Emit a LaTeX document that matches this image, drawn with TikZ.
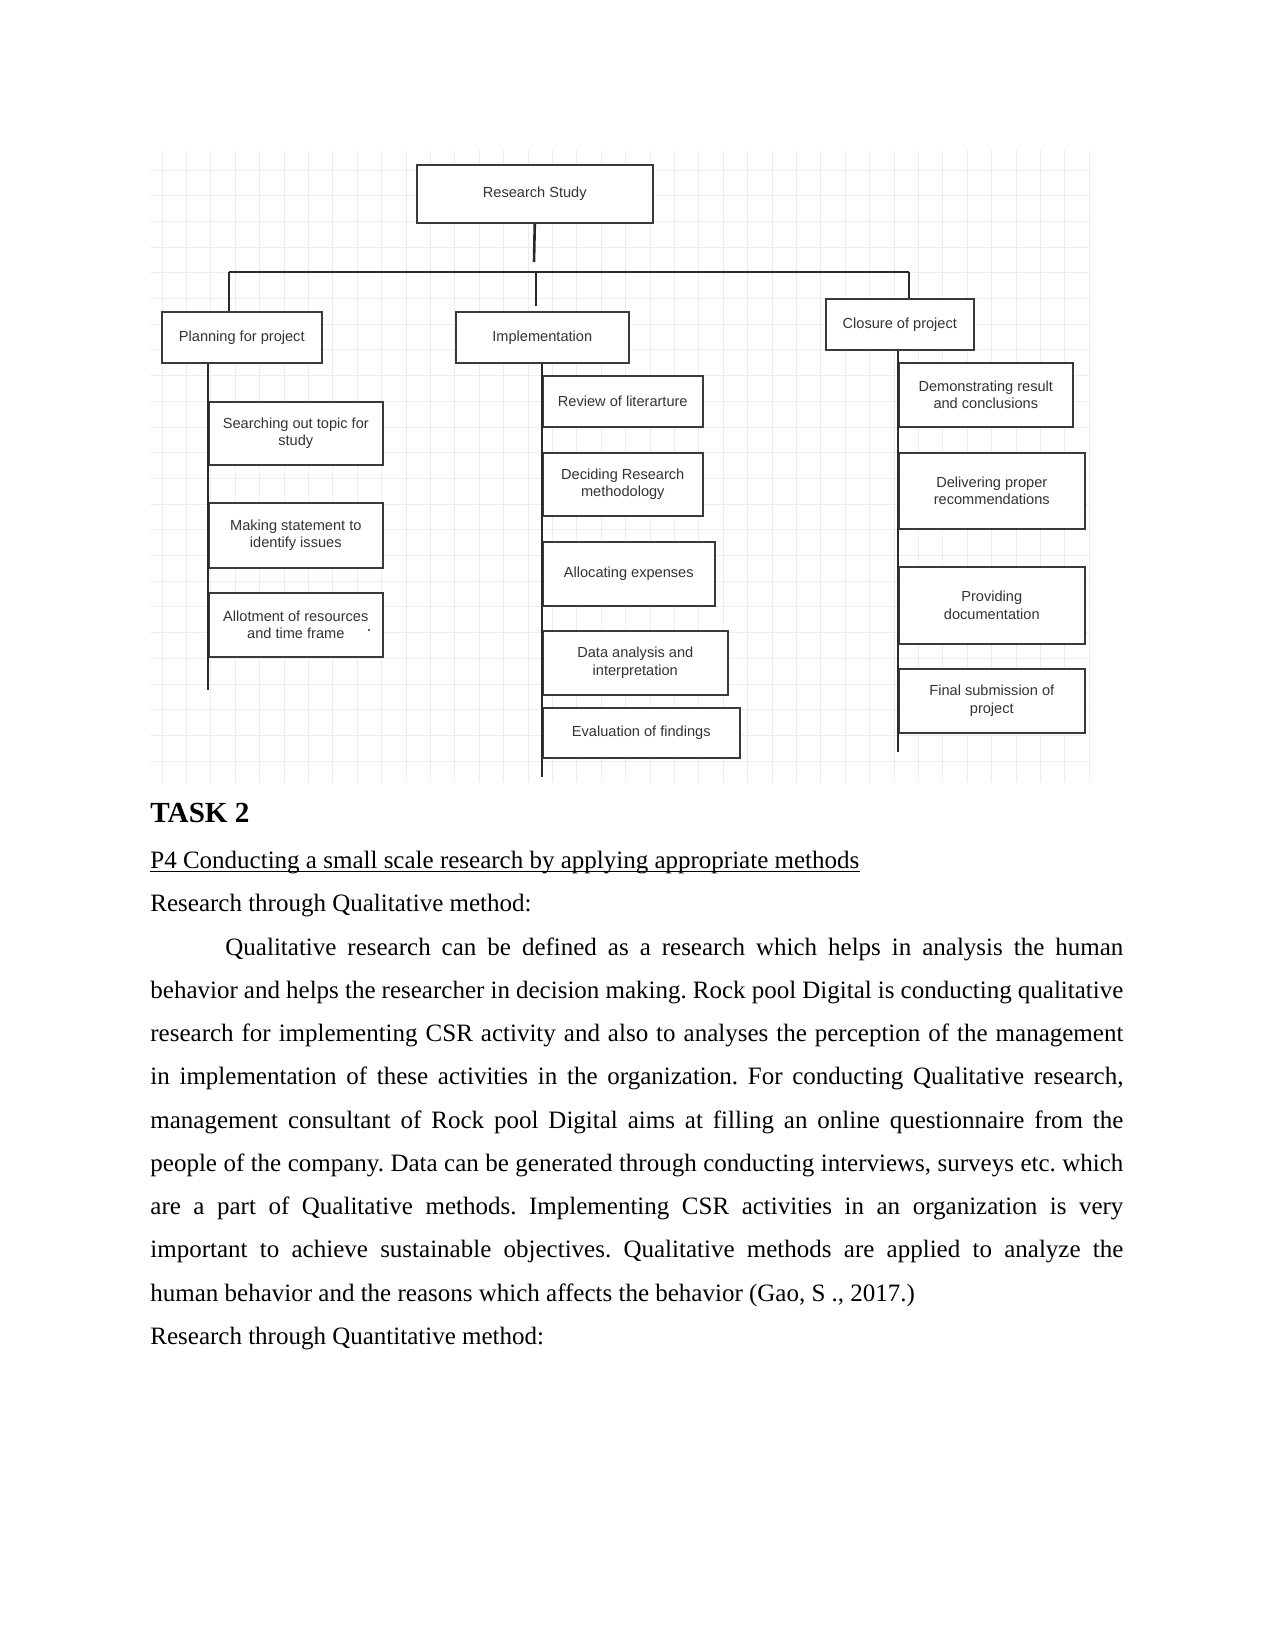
\documentclass[tikz,border=0pt]{standalone}
\usepackage{fontspec}
\setmainfont{Liberation Serif}
\newfontfamily\diagfont{Liberation Sans}
\frenchspacing
\definecolor{gridc}{HTML}{ECECF1}
\definecolor{linec}{HTML}{2A2A2A}
\definecolor{boxline}{HTML}{3A3A3A}
\definecolor{boxtext}{HTML}{333333}
\tikzset{
  box/.style={draw=boxline, line width=0.75pt, fill=white, inner sep=1pt, align=center,
    font=\diagfont\fontsize{7}{8.4}\selectfont, text=boxtext, anchor=north west},
  conn/.style={draw=linec, line width=1.25pt},
  bodyline/.style={anchor=base west, inner sep=0pt, font=\fontsize{12}{14}\selectfont}
}
\newcommand\bx[6]{\node[box, minimum width=#4*0.48pt, minimum height=#5*0.48pt] (#1) at (#2,#3) {#6};}
\begin{document}
\begin{tikzpicture}[x=0.48pt, y=-0.48pt]
\useasboundingbox (0,0) rectangle (1275,1650);
% grid
\foreach \gx in {0,...,38} {\draw[gridc, line width=0.45pt] ({162+24.4*\gx},150) -- ({162+24.4*\gx},782);}
\foreach \gy in {0,...,23} {\draw[gridc, line width=0.45pt] (150,{170+25.7*\gy}) -- (1090,{170+25.7*\gy});}
% top
\bx{rs}{416}{164}{236}{58}{Research Study}
\bx{plan}{161}{311}{160}{51}{Planning for project}
\bx{impl}{455}{311}{173}{51}{Implementation}
\bx{clos}{825}{298}{148}{51}{Closure of project}
% planning children
\bx{p1}{208}{401}{174}{63}{Searching out topic for\\study}
\bx{p2}{208}{502}{174}{65}{Making statement to\\identify issues}
\bx{p3}{208}{592}{174}{64}{Allotment of resources\\and time frame}
% implementation children
\bx{i1}{542}{375}{160}{51}{Review of literarture}
\bx{i2}{542}{452}{160}{63}{Deciding Research\\methodology}
\bx{i3}{542}{541}{172}{64}{Allocating expenses}
\bx{i4}{542}{630}{185}{64}{Data analysis and\\interpretation}
\bx{i5}{542}{707}{197}{50}{Evaluation of findings}
% closure children
\bx{c1}{898}{362}{174}{64}{Demonstrating result\\and conclusions}
\bx{c2}{898}{452}{186}{76}{Delivering proper\\recommendations}
\bx{c3}{898}{566}{186}{77}{Providing\\documentation}
\bx{c4}{898}{668}{186}{64}{Final submission of\\project}
\fill[linec] (369,630) circle (1.2);
% connectors
\coordinate (hl) at (229,272);
\coordinate (hm) at (534,272);
\coordinate (hr) at (909,272);
\coordinate (hmi) at (536,272);
\draw[conn] (rs.south) -- (534,262);
\draw[conn] (hl) -- (hr);
\draw[conn] (hl) -- (hl |- plan.north);
\draw[conn] (hmi) -- (536,306);
\draw[conn] (hr) -- (hr |- clos.north);
\coordinate (pe) at (208,690);
\coordinate (ie) at (542,777);
\coordinate (ce) at (898,752);
\draw[conn] (pe |- plan.south) -- (pe);
\draw[conn] (ie |- impl.south) -- (ie);
\draw[conn] (ce |- clos.south) -- (ce);
% body text
\node[bodyline, font=\fontsize{14}{16}\selectfont\bfseries] (t0) at (150,822) {TASK 2};
\node[bodyline] (t1) at (150,868) {P4 Conducting a small scale research by applying appropriate methods};
\draw[line width=0.55pt] ([yshift=-1.6pt]t1.base west) -- ([yshift=-1.6pt]t1.base east);
\node[bodyline] (t2) at (150,911) {Research through Qualitative method:};
\node[bodyline] (t3) at (225,955) {\makebox[431pt][s]{Qualitative research can be defined as a research which helps in analysis the human}};
\node[bodyline] (t4) at (150,998) {\makebox[467pt][s]{behavior and helps the researcher in decision making. Rock pool Digital is conducting qualitative}};
\node[bodyline] (t5) at (150,1041) {\makebox[467pt][s]{research for implementing CSR activity and also to analyses the perception of the management}};
\node[bodyline] (t6) at (150,1084) {\makebox[467pt][s]{in implementation of these activities in the organization. For conducting Qualitative research,}};
\node[bodyline] (t7) at (150,1128) {\makebox[467pt][s]{management consultant of Rock pool Digital aims at filling an online questionnaire from the}};
\node[bodyline] (t8) at (150,1171) {\makebox[467pt][s]{people of the company. Data can be generated through conducting interviews, surveys etc. which}};
\node[bodyline] (t9) at (150,1214) {\makebox[467pt][s]{are a part of Qualitative methods. Implementing CSR activities in an organization is very}};
\node[bodyline] (t10) at (150,1257) {\makebox[467pt][s]{important to achieve sustainable objectives. Qualitative methods are applied to analyze the}};
\node[bodyline] (t11) at (150,1301) {human behavior and the reasons which affects the behavior (Gao, S ., 2017.)};
\node[bodyline] (t12) at (150,1344) {Research through Quantitative method:};
\end{tikzpicture}
\end{document}
